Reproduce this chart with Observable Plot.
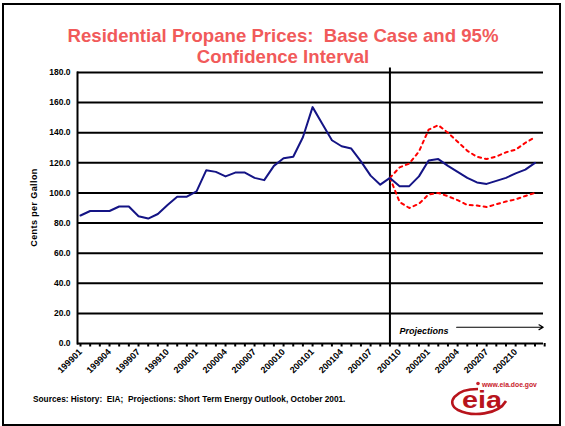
<!DOCTYPE html>
<html><head><meta charset="utf-8">
<script src="https://cdn.jsdelivr.net/npm/d3@7"></script>
<script src="https://cdn.jsdelivr.net/npm/@observablehq/plot@0.6"></script>
<style>
body{margin:0;background:#fff;}
#wrap{position:relative;width:565px;height:426px;overflow:hidden;font-family:"Liberation Sans",Arial,sans-serif;}
#border{position:absolute;left:2px;top:3px;width:559px;height:423px;border:2px solid #000;box-sizing:border-box;}
#title{position:absolute;left:0;top:25px;width:566px;text-align:center;color:#f15a5a;font-weight:bold;font-size:18.6px;line-height:21px;white-space:pre;}
#chart{position:absolute;left:0;top:0;}
</style></head>
<body>
<div id="wrap">
<div id="border"></div>
<div id="chart"></div>
<div id="title">Residential Propane Prices:  Base Case and 95%
Confidence Interval</div>
</div>
<script>
// Month categories (x), one per data point
const months = ["199901","199902","199903","199904","199905","199906","199907","199908","199909","199910","199911","199912",
 "200001","200002","200003","200004","200005","200006","200007","200008","200009","200010","200011","200012",
 "200101","200102","200103","200104","200105","200106","200107","200108","200109","200110","200111","200112",
 "200201","200202","200203","200204","200205","200206","200207","200208","200209","200210","200211","200212"];
// Base case (history + projection), cents per gallon
const baseCase = [85,88,88,88,91,91,84.5,83,86,92,97.5,97.5,
 101,115,114,111,113.5,113.5,110,108.5,118,123,124,137,
 157,146,135,131,129.5,121,111.5,105.5,110,104.5,104.5,111,
 121.5,122.5,118,114,110,107,106,108,110,113,115.5,120];
// 95% confidence interval, from 200109 on
const ciStart = "200109";
const upperCI = [110,117,119.5,127.5,142,145,140,134,128,124,122.5,124.2,127,128.7,133.3,137];
const lowerCI = [110,94,90,92.8,99,100,97.8,95.2,92,91.7,90.6,92.5,94.3,95.7,98,100];
// Axis ticks
const yTicks = [0,20,40,60,80,100,120,140,160,180];
const xLabelMonths = ["199901","199904","199907","199910","200001","200004","200007","200010","200101","200104","200107","200110","200201","200204","200207","200210"];
// Annotations
const projectionStart = "200109";
const projLabel = "Projections";
const projLabelMonth = "200110";
const projLabelValue = 8.3;
const arrowFrom = "200204";
const arrowValue = 10.8;
const sourceText = "Sources: History:  EIA;  Projections: Short Term Energy Outlook, October 2001.";
const yTitle = "Cents per Gallon";

const idx = m => months.indexOf(m);
const baseData = baseCase.map((v,i)=>({i, v}));
const s0 = idx(ciStart);
const upData = upperCI.map((v,k)=>({i:s0+k, v}));
const loData = lowerCI.map((v,k)=>({i:s0+k, v}));

const font = "Liberation Sans, Arial, sans-serif";
const plot = Plot.plot({
  width:565, height:426,
  marginLeft:77, marginRight:22, marginTop:72, marginBottom:83,
  x:{type:"linear", domain:[-0.31, 47.88], axis:null},
  y:{domain:[0,180], axis:null},
  style:{fontFamily:font, background:"transparent", overflow:"visible", color:"#000"},
  marks:[
    Plot.ruleY(yTicks, {stroke:"#000", strokeWidth:2}),
    Plot.axisY({ticks:yTicks, tickSize:0, tickPadding:7, tickFormat:d=>d.toFixed(1), fontSize:8.5, fontWeight:"bold", label:null}),
    Plot.frame({anchor:"left", strokeWidth:2, stroke:"#000"}),
    Plot.axisX({ticks:d3.range(0, months.length+1), tickSize:3.5, strokeWidth:2, tickFormat:()=>"", label:null}),
    Plot.axisX({ticks:xLabelMonths.map(idx), tickSize:0, tickPadding:7, tickRotate:-45, tickFormat:i=>months[i], fontSize:9, fontWeight:"bold", label:null}),
    Plot.ruleX([idx(projectionStart)], {y1:0, y2:183, stroke:"#000", strokeWidth:2}),
    Plot.line(upData, {x:"i", y:"v", stroke:"#ff0000", strokeWidth:2, strokeDasharray:"3,4"}),
    Plot.line(loData, {x:"i", y:"v", stroke:"#ff0000", strokeWidth:2, strokeDasharray:"3,4"}),
    Plot.line(baseData, {x:"i", y:"v", stroke:"#141485", strokeWidth:2}),
    Plot.text([projLabel], {x:idx(projLabelMonth), y:projLabelValue, text:d=>d, textAnchor:"start", fontSize:9, fontWeight:"bold", fontStyle:"italic"}),
    Plot.arrow([{a:idx(arrowFrom)-0.1, b:47.85}], {x1:"a", x2:"b", y1:arrowValue, y2:arrowValue, stroke:"#000", strokeWidth:1.2, headLength:6})
  ]
});
document.getElementById("chart").appendChild(plot);

const svg = d3.select(plot);
svg.append("text").attr("transform","translate(37,207.5) rotate(-90)")
  .attr("text-anchor","middle").attr("font-size",9).attr("font-weight","bold")
  .attr("letter-spacing",0.4).attr("fill","#000").text(yTitle);
svg.append("text").attr("x",33).attr("y",402).attr("font-size",8.3).attr("font-weight","bold")
  .attr("text-anchor","start").attr("fill","#000").style("white-space","pre").text(sourceText);
// EIA logo
const logo = svg.append("g").attr("text-anchor","start");
logo.append("path").attr("d","M478 389 C455 389 445 403 458 410 C472 417 498 415 506 401")
  .attr("fill","none").attr("stroke","#b8141c").attr("stroke-width",2.6);
logo.append("text").attr("x",462).attr("y",408).attr("font-size",24).attr("font-weight","bold")
  .attr("fill","#b8141c").attr("textLength",40).attr("lengthAdjust","spacingAndGlyphs").text("eia");
logo.append("circle").attr("cx",478).attr("cy",383.5).attr("r",1.8).attr("fill","#c8202a");
logo.append("text").attr("x",482).attr("y",386.5).attr("font-size",6.8).attr("font-weight","bold")
  .attr("fill","#c8202a").text("www.eia.doe.gov");
</script>
</body></html>
